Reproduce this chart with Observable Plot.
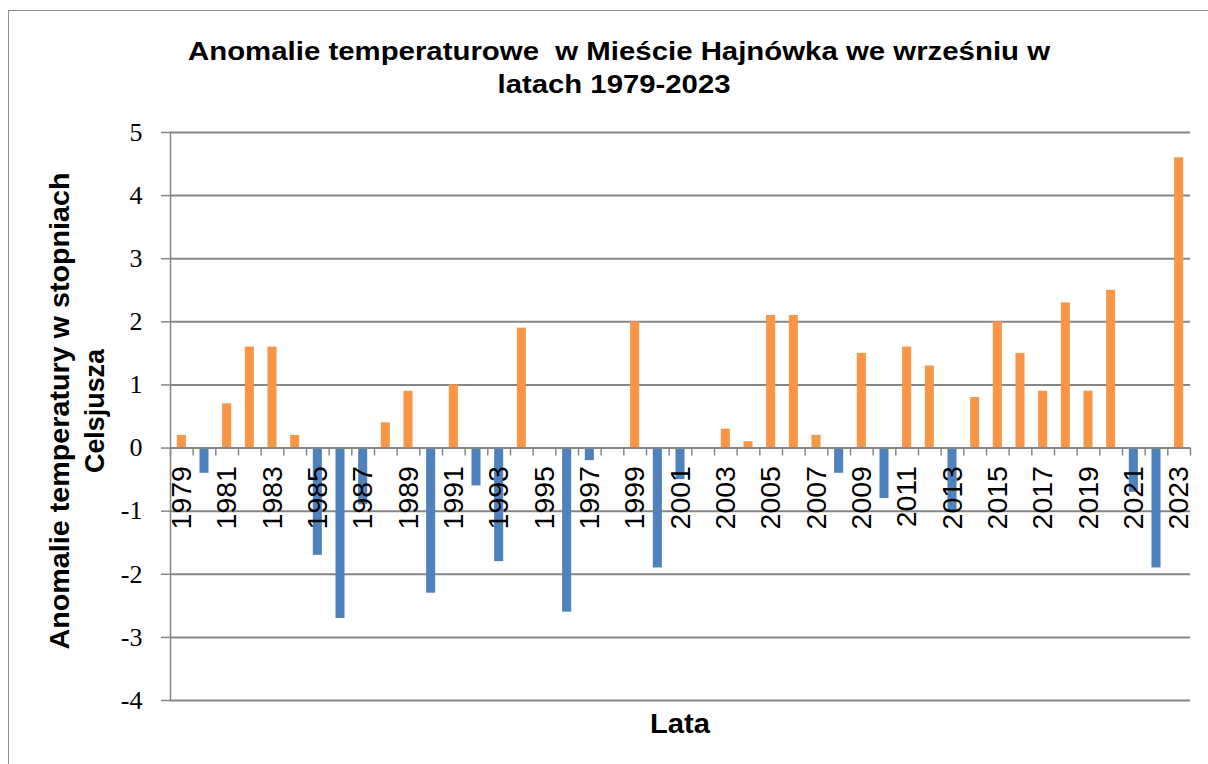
<!DOCTYPE html>
<html><head><meta charset="utf-8">
<script src="https://cdn.jsdelivr.net/npm/d3@7"></script>
<script src="https://cdn.jsdelivr.net/npm/@observablehq/plot@0.6"></script>
<style>
html,body{margin:0;padding:0;background:#fff;}
#wrap{position:relative;width:1208px;height:764px;overflow:hidden;background:#fff;}
#border{position:absolute;left:8px;top:10px;width:1300px;height:900px;border:1.5px solid #8c8c8c;box-sizing:border-box;}
#chart{position:absolute;left:0;top:0;}
#overlay{position:absolute;left:0;top:0;pointer-events:none;}
#overlay text{white-space:pre;}
</style></head><body>
<div id="wrap"><div id="border"></div><div id="chart"></div><svg id="overlay" width="1208" height="764"></svg></div>
<script>
const years = [1979,1980,1981,1982,1983,1984,1985,1986,1987,1988,1989,1990,1991,1992,1993,1994,1995,1996,1997,1998,1999,2000,2001,2002,2003,2004,2005,2006,2007,2008,2009,2010,2011,2012,2013,2014,2015,2016,2017,2018,2019,2020,2021,2022,2023];
const anomalies = [0.2,-0.4,0.7,1.6,1.6,0.2,-1.7,-2.7,-0.9,0.4,0.9,-2.3,1.0,-0.6,-1.8,1.9,0,-2.6,-0.2,0,2.0,-1.9,-0.5,0,0.3,0.1,2.1,2.1,0.2,-0.4,1.5,-0.8,1.6,1.3,-1.0,0.8,2.0,1.5,0.9,2.3,0.9,2.5,-0.7,-1.9,4.6];
const yTicks = [-4,-3,-2,-1,0,1,2,3,4,5];
const labelYears = years.filter(y => y % 2 === 1);
const titleLines = ["Anomalie temperaturowe  w Mieście Hajnówka we wrześniu w", "latach 1979-2023"];
const yLabelLines = ["Anomalie temperatury w stopniach", "Celsjusza"];
const xLabel = "Lata";
const colorPositive = "#F79646";
const colorNegative = "#4F81BD";
const gridColor = "#868686";

const data = years.map((year, i) => ({year, value: anomalies[i]}));
const boundaries = [years[0] - 0.5, ...years.map(y => y + 0.5)];

const plot = Plot.plot({
  width: 1208, height: 764,
  marginLeft: 170, marginRight: 18, marginTop: 132, marginBottom: 64,
  x: {domain: [years[0] - 0.5, years[years.length - 1] + 0.5], axis: null},
  y: {domain: [-4, 5], axis: null},
  style: {background: "transparent", overflow: "visible", color: "#000"},
  marks: [
    Plot.ruleY(yTicks, {stroke: gridColor, strokeWidth: 2}),
    Plot.axisY({ticks: yTicks, tickSize: 9, tickPadding: 19, fontSize: 26, fontFamily: "Liberation Serif", stroke: gridColor, strokeWidth: 1.5, tickFormat: d => String(d), label: null}),
    Plot.ruleX([years[0] - 0.5], {stroke: gridColor, strokeWidth: 1.5}),
    Plot.rect(data, {x1: d => d.year - 0.2, x2: d => d.year + 0.2, y1: 0, y2: "value", fill: d => d.value >= 0 ? colorPositive : colorNegative}),
    Plot.ruleY([0], {stroke: gridColor, strokeWidth: 2}),
    Plot.ruleX(boundaries, {x: d => d, y1: 0, y2: 0, insetBottom: -8, stroke: gridColor, strokeWidth: 1.5}),
    Plot.text(labelYears, {x: d => d, y: 0, text: d => String(d), rotate: -90, textAnchor: "end", dy: 18, fontSize: 28.5, fontFamily: "Liberation Sans", fill: "#000"})
  ]
});
document.getElementById("chart").appendChild(plot);

const ov = d3.select("#overlay");
const bold = {"font-family": "Liberation Sans, Arial, sans-serif", "font-weight": "bold", "fill": "#000"};
function addText(sel, txt, attrs) {
  const t = sel.append("text").attr("xml:space", "preserve").text(txt);
  Object.entries({...bold, ...attrs}).forEach(([k, v]) => t.attr(k, v));
  return t;
}
addText(ov, titleLines[0], {x: 619, y: 60, "text-anchor": "middle", "font-size": 26, textLength: 862, lengthAdjust: "spacingAndGlyphs"});
addText(ov, titleLines[1], {x: 614, y: 93, "text-anchor": "middle", "font-size": 26, textLength: 233, lengthAdjust: "spacingAndGlyphs"});
const yl = ov.append("g").attr("transform", "translate(0,411) rotate(-90)");
addText(yl, yLabelLines[0], {x: 0, y: 69, "text-anchor": "middle", "font-size": 28, textLength: 477, lengthAdjust: "spacingAndGlyphs"});
addText(yl, yLabelLines[1], {x: 0, y: 104, "text-anchor": "middle", "font-size": 28, textLength: 124, lengthAdjust: "spacingAndGlyphs"});
addText(ov, xLabel, {x: 680, y: 733, "text-anchor": "middle", "font-size": 28, textLength: 60, lengthAdjust: "spacingAndGlyphs"});
</script>
</body></html>
